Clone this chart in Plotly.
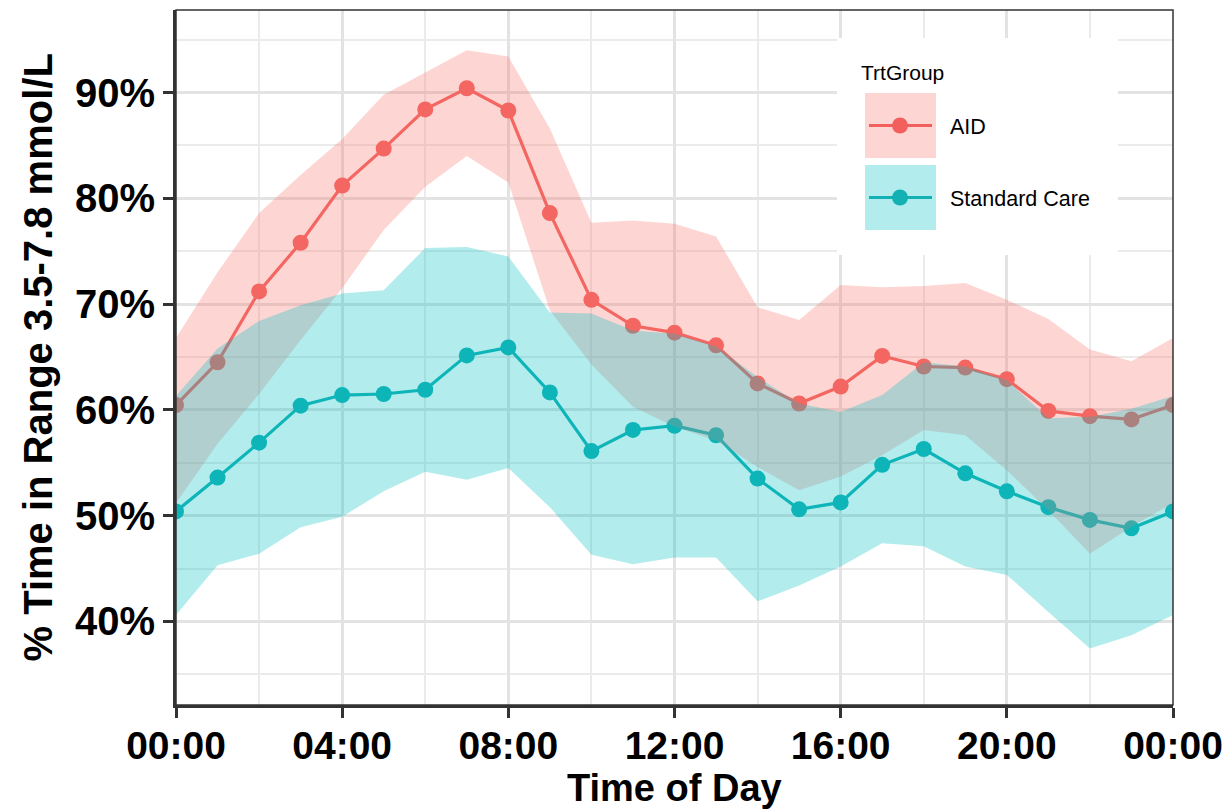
import plotly.graph_objects as go

# ---------------- data ----------------
hours = list(range(25))
tick_hours = [0, 4, 8, 12, 16, 20, 24]
tick_labels = ["00:00", "04:00", "08:00", "12:00", "16:00", "20:00", "00:00"]
minor_hours = [2, 6, 10, 14, 18, 22]
y_ticks = [40, 50, 60, 70, 80, 90]
y_tick_labels = ["40%", "50%", "60%", "70%", "80%", "90%"]
y_minor = [35, 45, 55, 65, 75, 85, 95]

groups = ["AID", "Standard Care"]

aid_mean = [60.45, 64.5, 71.2, 75.8, 81.2, 84.7, 88.4, 90.4, 88.3, 78.6, 70.4, 67.95,
            67.3, 66.1, 62.5, 60.6, 62.2, 65.1, 64.1, 64.0, 62.9, 59.9, 59.4, 59.1, 60.45]
aid_upper = [66.8, 73.0, 78.6, 82.2, 85.6, 89.8, 91.9, 94.0, 93.4, 86.6, 77.7, 77.9,
             77.6, 76.4, 69.7, 68.5, 71.8, 71.6, 71.7, 72.0, 70.4, 68.6, 65.7, 64.6, 66.8]
aid_lower = [51.2, 56.8, 61.5, 66.6, 71.5, 77.0, 81.1, 84.0, 81.5, 69.4, 64.3, 60.3,
             58.4, 57.1, 54.6, 52.4, 53.7, 55.7, 58.1, 57.6, 54.3, 50.5, 46.4, 48.95, 51.2]

sc_mean = [50.4, 53.6, 56.9, 60.4, 61.4, 61.5, 61.9, 65.15, 65.9, 61.65, 56.1, 58.1,
           58.5, 57.6, 53.5, 50.6, 51.25, 54.8, 56.3, 54.0, 52.3, 50.8, 49.6, 48.8, 50.4]
sc_upper = [61.3, 65.8, 68.4, 69.9, 71.0, 71.3, 75.3, 75.4, 74.5, 69.2, 69.1, 67.5,
            67.2, 66.0, 63.1, 60.6, 59.8, 61.4, 64.5, 64.1, 62.8, 59.2, 59.35, 60.1, 61.3]
sc_lower = [40.6, 45.3, 46.4, 48.9, 49.9, 52.3, 54.15, 53.4, 54.5, 50.8, 46.3, 45.4,
            46.05, 46.05, 41.9, 43.4, 45.2, 47.4, 47.1, 45.2, 44.4, 40.9, 37.45, 38.7, 40.6]

# ---------------- styles ----------------
line_colors = {"AID": "#F25F5C", "Standard Care": "#14B1B4"}
fill_colors = {"AID": "rgba(248,118,109,0.3)", "Standard Care": "rgba(0,191,196,0.3)"}
FONT = "Liberation Sans, Arial, sans-serif"

series = {
    "AID": (aid_mean, aid_lower, aid_upper),
    "Standard Care": (sc_mean, sc_lower, sc_upper),
}

fig = go.Figure()

# lines + points first (ribbons drawn over them, as in the reference)
for g in groups:
    mean, lo, hi = series[g]
    fig.add_trace(go.Scatter(
        x=hours, y=mean, mode="lines+markers", name=g,
        line=dict(color=line_colors[g], width=3.2),
        marker=dict(size=16, color=line_colors[g]),
        showlegend=False,
    ))

for g in groups:
    mean, lo, hi = series[g]
    fig.add_trace(go.Scatter(
        x=hours + hours[::-1], y=hi + lo[::-1],
        mode="lines", fill="toself", fillcolor=fill_colors[g],
        line=dict(width=0, color="rgba(0,0,0,0)"),
        hoverinfo="skip", showlegend=False,
    ))

# plot area geometry (pixels)
L, R, T, B = 176, 1173, 10, 705
W, H = 1232, 812


def pxx(x):
    return (x - L) / (R - L)


def pxy(y):
    return (B - y) / (B - T)


common_axis = dict(
    ticks="outside", ticklen=10, tickwidth=3, tickcolor="#333333",
    showline=True, linewidth=3, linecolor="#333333",
    showgrid=True, gridcolor="#E3E3E3", gridwidth=3, zeroline=False,
    automargin=False,
)

fig.update_layout(
    width=W, height=H,
    margin=dict(l=L, r=W - R, t=T, b=H - B, autoexpand=False),
    plot_bgcolor="white", paper_bgcolor="white",
    showlegend=False,
    xaxis=dict(
        range=[0, 24], tickmode="array", tickvals=tick_hours, ticktext=tick_labels,
        minor=dict(tickmode="array", tickvals=minor_hours, showgrid=True,
                   gridcolor="#EBEBEB", gridwidth=1.5),
        tickfont=dict(family=FONT, size=39, color="black", weight="bold"),
        ticklabelstandoff=-6,
        **common_axis,
    ),
    yaxis=dict(
        range=[32.1, 97.8], tickmode="array", tickvals=y_ticks, ticktext=y_tick_labels,
        minor=dict(tickmode="array", tickvals=y_minor, showgrid=True,
                   gridcolor="#EBEBEB", gridwidth=1.5),
        tickfont=dict(family=FONT, size=40, color="black", weight="bold"),
        **common_axis,
    ),
)

shapes = [
    # panel border
    dict(type="rect", xref="paper", yref="paper", x0=0, x1=1, y0=0, y1=1,
         line=dict(color="#333333", width=1.5), layer="above"),
    # legend background
    dict(type="rect", xref="paper", yref="paper",
         x0=pxx(837), x1=pxx(1118), y0=pxy(255), y1=pxy(38),
         fillcolor="white", line=dict(width=0), layer="above"),
]
annotations = [
    dict(text="Time of Day", xref="paper", yref="paper", x=0.5, y=0,
         yshift=-(H - B) + 1, xanchor="center", yanchor="bottom", showarrow=False,
         font=dict(family=FONT, size=38, color="black", weight="bold")),
    dict(text="% Time in Range 3.5-7.8 mmol/L", xref="paper", yref="paper",
         x=0, y=0.5, xshift=-(L - 37), xanchor="center", yanchor="middle",
         textangle=-90, showarrow=False,
         font=dict(family=FONT, size=40, color="black", weight="bold")),
    dict(text="TrtGroup", xref="paper", yref="paper", x=pxx(859), y=pxy(73),
         xanchor="left", yanchor="middle", showarrow=False,
         font=dict(family=FONT, size=21, color="black")),
]

key_rows = {"AID": (93, 158), "Standard Care": (165, 230)}
for g in groups:
    y0, y1 = key_rows[g]
    yc = (y0 + y1) / 2
    shapes.append(dict(type="rect", xref="paper", yref="paper",
                       x0=pxx(865), x1=pxx(936), y0=pxy(y1), y1=pxy(y0),
                       fillcolor=fill_colors[g], line=dict(width=0), layer="above"))
    shapes.append(dict(type="line", xref="paper", yref="paper",
                       x0=pxx(869), x1=pxx(932), y0=pxy(yc), y1=pxy(yc),
                       line=dict(color=line_colors[g], width=3.2), layer="above"))
    shapes.append(dict(type="circle", xref="paper", yref="paper",
                       x0=pxx(900 - 8), x1=pxx(900 + 8),
                       y0=pxy(yc + 8), y1=pxy(yc - 8),
                       fillcolor=line_colors[g], line=dict(width=0), layer="above"))
    annotations.append(dict(text=g, xref="paper", yref="paper", x=pxx(948), y=pxy(yc + 1),
                            xanchor="left", yanchor="middle", showarrow=False,
                            font=dict(family=FONT, size=21.5, color="black")))

fig.update_layout(shapes=shapes, annotations=annotations)

fig.write_html(
    "out.html",
    config={"displayModeBar": False},
    post_script="document.body.style.margin='0';document.body.style.padding='0';",
)
